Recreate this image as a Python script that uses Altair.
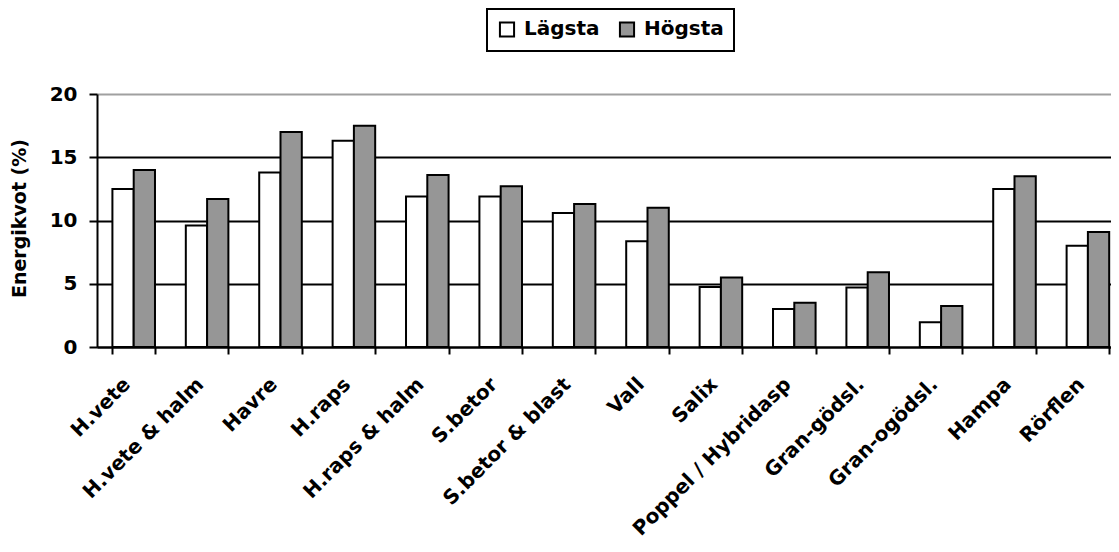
import altair as alt
import pandas as pd

categories = ["H.vete", "H.vete & halm", "Havre", "H.raps", "H.raps & halm",
              "S.betor", "S.betor & blast", "Vall", "Salix", "Poppel / Hybridasp",
              "Gran-gödsl.", "Gran-ogödsl.", "Hampa", "Rörflen"]
lagsta = [12.5, 9.6, 13.8, 16.3, 11.9, 11.9, 10.6, 8.35, 4.75, 3.0, 4.7, 1.95, 12.5, 8.0]
hogsta = [14.0, 11.7, 17.0, 17.5, 13.6, 12.7, 11.3, 11.0, 5.5, 3.5, 5.9, 3.25, 13.5, 9.1]
series = ["Lägsta", "Högsta"]
y_ticks = [0, 5, 10, 15, 20]

rows = []
for c, lo, hi in zip(categories, lagsta, hogsta):
    rows.append({"kategori": c, "serie": series[0], "varde": lo})
    rows.append({"kategori": c, "serie": series[1], "varde": hi})
df = pd.DataFrame(rows)

FONT = "DejaVu Sans"
step = 73.4

chart = alt.Chart(df).mark_bar(stroke="black", strokeWidth=2).encode(
    x=alt.X("kategori:N", sort=categories, title=None,
            scale=alt.Scale(range=[0, step * len(categories)], paddingInner=0.42, paddingOuter=0.21),
            axis=alt.Axis(labelAngle=-45, labelAlign="right", labelBaseline="middle",
                          labelFont=FONT, labelFontSize=20, labelFontWeight="bold", labelColor="black",
                          labelPadding=27, labelOffset=-7, tickBand="extent", tickSize=7, tickWidth=2,
                          tickColor="black", domainColor="black", domainWidth=2, grid=False,
                          labelOverlap=False, labelLimit=400)),
    xOffset=alt.XOffset("serie:N", sort=series),
    y=alt.Y("varde:Q", title="Energikvot (%)",
            scale=alt.Scale(domain=[0, 20], nice=False),
            axis=alt.Axis(values=y_ticks, labelFont=FONT, labelFontSize=20, labelFontWeight="bold",
                          labelColor="black", labelPadding=12, tickSize=8, tickWidth=2, tickColor="black",
                          domainColor="black", domainWidth=2, grid=True, gridWidth=2,
                          gridColor=alt.condition("datum.value == 20", alt.value("#a0a0a0"), alt.value("black")),
                          titleFont=FONT, titleFontSize=19, titleFontWeight="bold", titleColor="black",
                          titleX=-78, titleY=124, titleAngle=-90, titleAlign="center",
                          titleBaseline="middle")),
    color=alt.Color("serie:N", sort=series,
                    scale=alt.Scale(domain=series, range=["white", "#969696"]),
                    legend=alt.Legend(title=None, orient="none", legendX=390, legendY=-85,
                                      direction="horizontal", symbolType="square", symbolSize=200,
                                      symbolStrokeColor="black", symbolStrokeWidth=2,
                                      labelFont=FONT, labelFontSize=20, labelFontWeight="bold",
                                      labelColor="black", labelOffset=7, columnPadding=15,
                                      padding=10, strokeColor="black")),
).properties(
    width=1014, height=253,
    autosize=alt.AutoSizeParams(type="none"),
    padding={"left": 89, "top": 86, "right": 0, "bottom": 194},
).configure_view(stroke=None).configure_legend(strokeWidth=2)

chart.save("out.html", embed_options={"renderer": "svg", "actions": False})
